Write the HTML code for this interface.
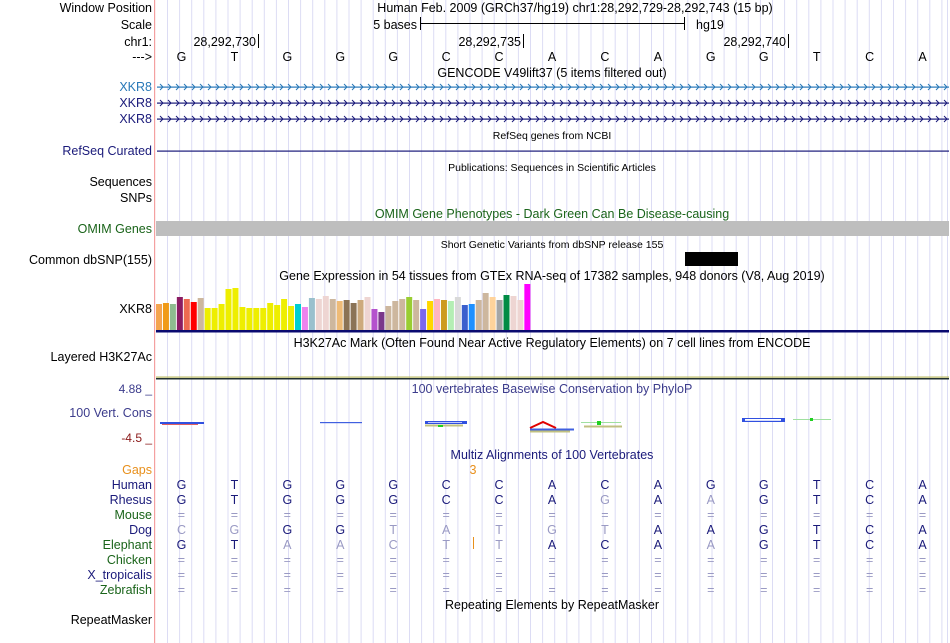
<!DOCTYPE html>
<html><head><meta charset="utf-8"><style>
body{margin:0;background:#fff;}
svg{display:block;font-family:"Liberation Sans",sans-serif;}
</style></head><body>
<svg id="c" width="950" height="643" viewBox="0 0 950 643">
<g id="grid"></g>
<rect x="154" y="0" width="1.2" height="643" fill="#f4a0a0"/>
<g id="labels" font-size="12.5" text-anchor="end"></g>
<g id="titles" font-size="12.5" text-anchor="middle"></g>
<g id="marks"></g>
</svg>
<script>
const seq=['G','T','G','G','G','C','C','A','C','A','G','G','T','C','A'];
const gtexVals=[26,27,26,33,31,28,32,22,22,26,41,42,23,22,22,22,27,25,31,24,26,23,32,31,34,31,29,30,27,30,33,21,18,24,29,31,33,30,21,29,31,30,29,33,25,26,30,37,33,30,35,34,30,46];
const gtexColors=['#f4a44f','#f09a17','#8fbc8f','#8b1c62','#ee6a50','#ff0000','#cdb79e','#eeee00','#eeee00','#eeee00','#eeee00','#eeee00','#eeee00','#eeee00','#eeee00','#eeee00','#eeee00','#eeee00','#eeee00','#eeee00','#00ced1','#ee82ee','#9ac0cd','#eed5d2','#eed5d2','#cdb79e','#eebb77','#8b7355','#8b7355','#cdaa7d','#eed5d2','#b452cd','#7a378b','#cdb79e','#cdb79e','#cdb79e','#9acd32','#cdb79e','#7b68ee','#ffd700','#ffb6c1','#cd9b1d','#b4eeb4','#d9d9d9','#3a5fcd','#1e90ff','#cdb79e','#cdb79e','#ffd39b','#a6a6a6','#008b45','#eed5d2','#eed5d2','#ff00ff'];
const rhesus=['G','T','G','G','G','C','C','A','G','A','A','G','T','C','A'];
const rhesusLight=[0,0,0,0,0,0,0,0,1,0,1,0,0,0,0];
const dog=['C','G','G','G','T','A','T','G','T','A','A','G','T','C','A'];
const dogLight=[1,1,0,0,1,1,1,1,1,0,0,0,0,0,0];
const eleph=['G','T','A','A','C','T','T','A','C','A','A','G','T','C','A'];
const elephLight=[0,0,1,1,1,1,1,0,0,0,1,0,0,0,0];

const NS='http://www.w3.org/2000/svg';
const X0=155,X1=949,N=seq.length,BW=(X1-X0)/N;
function bx(i){return X0+BW*(i+0.5);}
function el(tag,attrs,parent,text){const e=document.createElementNS(NS,tag);for(const k in attrs)e.setAttribute(k,attrs[k]);if(text!==undefined)e.textContent=text;parent.appendChild(e);return e;}
const grid=document.getElementById('grid'),labels=document.getElementById('labels'),titles=document.getElementById('titles'),marks=document.getElementById('marks');
for(let x=167;x<949;x+=12.1){const l=el('rect',{x:x,y:0,width:1,height:643,fill:'#dcdcf4'},grid);

}
el('rect',{x:947,y:0,width:1,height:643,fill:'#dcdcf4'},grid);

const L=[['Window Position',12,'#000'],['Scale',29,'#000'],['chr1:',46,'#000'],['--->',61,'#000'],
['XKR8',91,'#2878b8'],['XKR8',107,'#1a1a7a'],['XKR8',123,'#1a1a7a'],['RefSeq Curated',155,'#1a1a7a'],
['Sequences',186,'#000'],['SNPs',202,'#000'],['OMIM Genes',233,'#1a641a'],['Common dbSNP(155)',264,'#000'],
['XKR8',313,'#000'],['Layered H3K27Ac',361,'#000'],['100 Vert. Cons',417,'#3c3c8c'],
['Gaps',474,'#e8901c'],['Human',489,'#1a1a7a'],['Rhesus',504,'#1a1a7a'],['Mouse',519,'#1a641a'],['Dog',534,'#1a1a7a'],
['Elephant',549,'#1a641a'],['Chicken',564,'#1a641a'],['X_tropicalis',579,'#1a1a7a'],['Zebrafish',594,'#1a641a'],['RepeatMasker',624,'#000']];
L.forEach(a=>{const t=el('text',{x:152,y:a[1],fill:a[2]},labels,a[0]);

});
el('text',{x:152,y:393,fill:'#3c3c8c','font-size':12},labels,'4.88 _');
el('text',{x:152,y:442,fill:'#8b1a1a','font-size':12},labels,'-4.5 _');

const T=[['Human Feb. 2009 (GRCh37/hg19)   chr1:28,292,729-28,292,743 (15 bp)',575,12,'#000',12.5],
['GENCODE V49lift37 (5 items filtered out)',552,77,'#000',12.5],['RefSeq genes from NCBI',552,139,'#000',10.5],
['Publications: Sequences in Scientific Articles',552,171,'#000',10.5],['OMIM Gene Phenotypes - Dark Green Can Be Disease-causing',552,218,'#1a641a',12.5],
['Short Genetic Variants from dbSNP release 155',552,248,'#000',10.5],['Gene Expression in 54 tissues from GTEx RNA-seq of 17382 samples, 948 donors (V8, Aug 2019)',552,280,'#000',12.5],
['H3K27Ac Mark (Often Found Near Active Regulatory Elements) on 7 cell lines from ENCODE',552,347,'#000',12.5],
['100 vertebrates Basewise Conservation by PhyloP',552,393,'#3c3c8c',12.5],['Multiz Alignments of 100 Vertebrates',552,459,'#1a1a7a',12.5],
['Repeating Elements by RepeatMasker',552,609,'#000',12.5]];
T.forEach(a=>{const t=el('text',{x:a[1],y:a[2],fill:a[3],'font-size':a[4],'xml:space':'preserve'},titles,a[0]);

});

// scale bar
el('text',{x:417,y:29,'font-size':12.5,'text-anchor':'end'},marks,'5 bases');
el('rect',{x:420,y:23,width:265,height:1,fill:'#000'},marks);
el('rect',{x:420,y:17,width:1,height:13,fill:'#000'},marks);
el('rect',{x:684,y:17,width:1,height:13,fill:'#000'},marks);
el('text',{x:696,y:29,'font-size':12.5},marks,'hg19');
[['28,292,730',258],['28,292,735',523],['28,292,740',788]].forEach(p=>{
el('text',{x:p[1]-2,y:46,'font-size':12.5,'text-anchor':'end'},marks,p[0]);
el('rect',{x:p[1],y:34,width:1,height:14,fill:'#000'},marks);});
seq.forEach((b,i)=>{const t=el('text',{x:bx(i),y:61,'font-size':12.5,'text-anchor':'middle'},marks,b);

});

// gene lines with arrows
[[87,'#2878b8'],[103,'#1a1a7a'],[119,'#1a1a7a']].forEach(g=>{
el('rect',{x:157,y:g[0]-0.5,width:792,height:1.2,fill:g[1]},marks);
let d='';for(let x=160;x<948;x+=8)d+=`M${x},${g[0]-3}L${x+3},${g[0]}L${x},${g[0]+3}`;
const p=el('path',{d:d,stroke:g[1],fill:'none','stroke-width':1},marks);

});
el('rect',{x:157,y:150.5,width:792,height:1.2,fill:'#1a1a7a'},marks);
const om=el('rect',{x:156,y:221,width:793,height:15,fill:'#bebebe'},marks);


const sn=el('rect',{x:685,y:252,width:53,height:14,fill:'#000'},marks);



// GTEx bars
const base=330,pitch=6.95;
gtexVals.forEach((v,i)=>{const h=v;const r=el('rect',{x:156+i*pitch,y:base-h,width:6,height:h,fill:gtexColors[i]},marks);

});
el('rect',{x:156,y:330,width:793,height:2.5,fill:'#0a0a70'},marks);
el('rect',{x:156,y:376.5,width:793,height:1.2,fill:'#b8b860'},marks);
el('rect',{x:156,y:378,width:793,height:1.5,fill:'#203030'},marks);

// phyloP marks
el('rect',{x:160,y:422,width:44,height:2,fill:'#3050e0'},marks);
el('rect',{x:162,y:424,width:36,height:1,fill:'#e06060'},marks);
el('rect',{x:320,y:422,width:42,height:1.2,fill:'#4060e0'},marks);
el('rect',{x:425,y:421,width:42,height:3,fill:'#3050e0'},marks);
el('rect',{x:428,y:422,width:34,height:1,fill:'#c0c8ff'},marks);
el('rect',{x:425,y:424.5,width:38,height:2,fill:'#c0c080'},marks);
el('rect',{x:438,y:425,width:5,height:2,fill:'#20d020'},marks);
el('path',{d:'M530,428L543,422L556,428',stroke:'#e00000','stroke-width':2,fill:'none'},marks);
el('rect',{x:530,y:428.5,width:44,height:2,fill:'#4060e0'},marks);
el('rect',{x:530,y:430.5,width:40,height:2,fill:'#c0c080'},marks);
el('rect',{x:581,y:422,width:40,height:1,fill:'#a0e0a0'},marks);
el('rect',{x:597,y:421,width:4,height:4,fill:'#20d020'},marks);
el('rect',{x:584,y:425.5,width:38,height:2,fill:'#c0c080'},marks);
el('rect',{x:742,y:418,width:43,height:4,fill:'#3050e0'},marks);
el('rect',{x:745,y:419,width:36,height:1.8,fill:'#fff'},marks);
el('rect',{x:793,y:419,width:38,height:1,fill:'#a0e0a0'},marks);
el('rect',{x:810,y:418,width:3,height:3,fill:'#20d020'},marks);

// multiz
el('text',{x:473,y:474,'font-size':12.5,'text-anchor':'middle',fill:'#e8901c'},marks,'3');
el('rect',{x:473,y:537,width:1,height:12,fill:'#e8901c'},marks);
function row(arr,light,y){arr.forEach((b,i)=>{const t=el('text',{x:bx(i),y:y,'font-size':12.5,'text-anchor':'middle',fill:light[i]?'#9a9ac4':'#1a1a7a'},marks,b);

});}
row(seq,seq.map(()=>0),489);
row(rhesus,rhesusLight,504);
row(dog,dogLight,534);
row(eleph,elephLight,549);
[519,564,579,594].forEach(y=>row(seq.map(()=>'='),seq.map(()=>1),y));
</script>
</body></html>
